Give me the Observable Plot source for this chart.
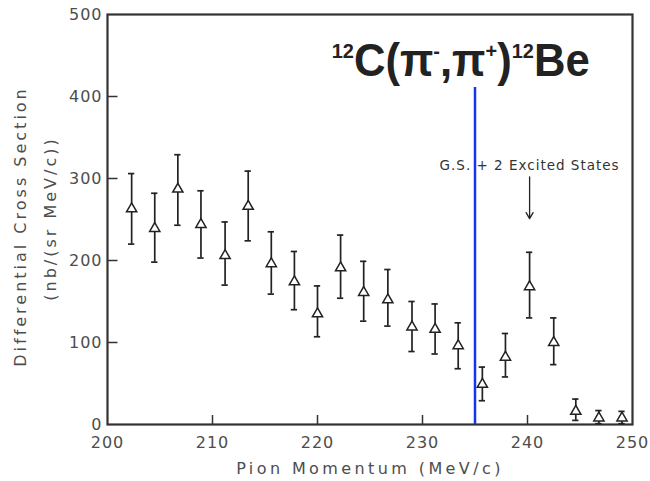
<!DOCTYPE html>
<html><head><meta charset="utf-8">
<script src="https://cdn.jsdelivr.net/npm/d3@7"></script>
<script src="https://cdn.jsdelivr.net/npm/@observablehq/plot@0.6"></script>
<style>body{margin:0;background:#fff} #chart{width:650px;height:481px}</style>
</head><body><div id="chart"></div>
<script>
const momentum = [202.3,204.5,206.7,208.9,211.2,213.4,215.6,217.8,220.0,222.2,224.4,226.7,229.0,231.2,233.4,235.7,237.9,240.2,242.5,244.6,246.8,249.0];
const crossSection = [263,239,287,244,206,266,196,174,135,191,161,152,119,116,96,49,82,168,100,16,8,8];
const errLow = [220,198,243,203,170,224,159,140,107,154,126,120,89,86,68,29,58,130,73,5,1,1];
const errHigh = [306,282,329,285,247,309,235,211,169,231,199,189,150,147,124,70,111,210,130,31,17,16];
const xTicks = [200,210,220,230,240,250];
const yTicks = [0,100,200,300,400,500];
const xLabel = "Pion Momentum (MeV/c)";
const yLabel1 = "Differential Cross Section";
const yLabel2 = "(nb/(sr MeV/c))";
const annotation = {x: 240.2, y: 316, text: "G.S. + 2 Excited States", arrowTop: 302, arrowBottom: 251};
const cutX = 235, cutTop = 411;
const titleParts = [["12",true],["C(π",false],["-",true],[",π",false],["+",true],[")",false],["12",true],["Be",false]];

const data = momentum.map((x,i)=>({x, y: crossSection[i], lo: errLow[i], hi: errHigh[i]}));
const ink = "#222";
const axisInk = "#4d4d4d";

const plot = Plot.plot({
  width: 650, height: 481,
  marginLeft: 107, marginRight: 18, marginTop: 14, marginBottom: 57,
  style: {fontFamily: "DejaVu Sans, sans-serif", fontSize: "16px", color: axisInk, background: "#fff"},
  x: {domain: [200, 250], ticks: xTicks, tickSize: 0, tickPadding: 12, label: xLabel, labelAnchor: "center", labelOffset: 49, labelArrow: false},
  y: {domain: [0, 500], ticks: yTicks, tickSize: 0, tickPadding: 5, label: null},
  marks: [
    Plot.ruleX(xTicks.slice(1,-1), {y1: 0, y2: 11, stroke: "#333", strokeWidth: 1.5}),
    Plot.ruleY(yTicks.slice(1,-1), {x1: 200, x2: 201, stroke: "#333", strokeWidth: 1.5}),
    Plot.frame({stroke: "#333", strokeWidth: 2.2}),
    Plot.ruleX(data, {x: "x", y1: "lo", y2: "hi", stroke: ink, strokeWidth: 1.7}),
    Plot.ruleY(data, {y: "lo", x1: d => d.x - 0.3, x2: d => d.x + 0.3, stroke: ink, strokeWidth: 1.7}),
    Plot.ruleY(data, {y: "hi", x1: d => d.x - 0.3, x2: d => d.x + 0.3, stroke: ink, strokeWidth: 1.7}),
    Plot.dot(data, {x: "x", y: "y", symbol: "triangle", r: 3.8, fill: "white", stroke: ink, strokeWidth: 1.5}),
    Plot.ruleX([cutX], {y1: 0, y2: cutTop, stroke: "#1434f0", strokeWidth: 2.5}),
    Plot.text([annotation], {x: "x", y: "y", text: "text", fontSize: 13.5, fill: "#333"}),
    Plot.arrow([annotation], {x1: "x", x2: "x", y1: "arrowTop", y2: "arrowBottom", stroke: ink, strokeWidth: 1.3, headLength: 8}),
    Plot.text([yLabel1], {frameAnchor: "left", textAnchor: "middle", rotate: -90, dx: -87, dy: 7, fontSize: 16, fill: axisInk}),
    Plot.text([yLabel2], {frameAnchor: "left", textAnchor: "middle", rotate: -90, dx: -57, dy: -1, fontSize: 16, fill: axisInk})
  ]
});
document.getElementById("chart").appendChild(plot);

const svg = d3.select(plot);
// letter spacing to match the wide scanned lettering
const spacing = new Map([[xLabel, 3.4], [yLabel1, 3], [yLabel2, 3], [annotation.text, 1]]);
svg.selectAll("text").each(function() {
  const s = this.textContent;
  if (spacing.has(s)) this.setAttribute("letter-spacing", spacing.get(s));
  else if (/^\d+$/.test(s)) this.setAttribute("letter-spacing", 1);
});

// Title with superscripts
const xs = plot.scale("x"), ys = plot.scale("y");
const t = svg.append("text")
  .attr("text-anchor", "start")
  .attr("font-family", "Liberation Sans, Arial, Helvetica, sans-serif")
  .attr("font-weight", "bold").attr("font-size", 46).attr("fill", "#222");
let raised = false;
for (const [s, sup] of titleParts) {
  const ts = t.append("tspan").text(s);
  if (sup) { ts.attr("font-size", 21); if (!raised) { ts.attr("dy", -18); raised = true; } }
  else if (raised) { ts.attr("dy", 18); raised = false; }
}
const bb = t.node().getBBox();
const tx = xs.apply(221.4), ty = ys.apply(424);
t.attr("transform", `translate(${tx},${ty}) scale(${258 / bb.width},1)`);
</script>
</body></html>
